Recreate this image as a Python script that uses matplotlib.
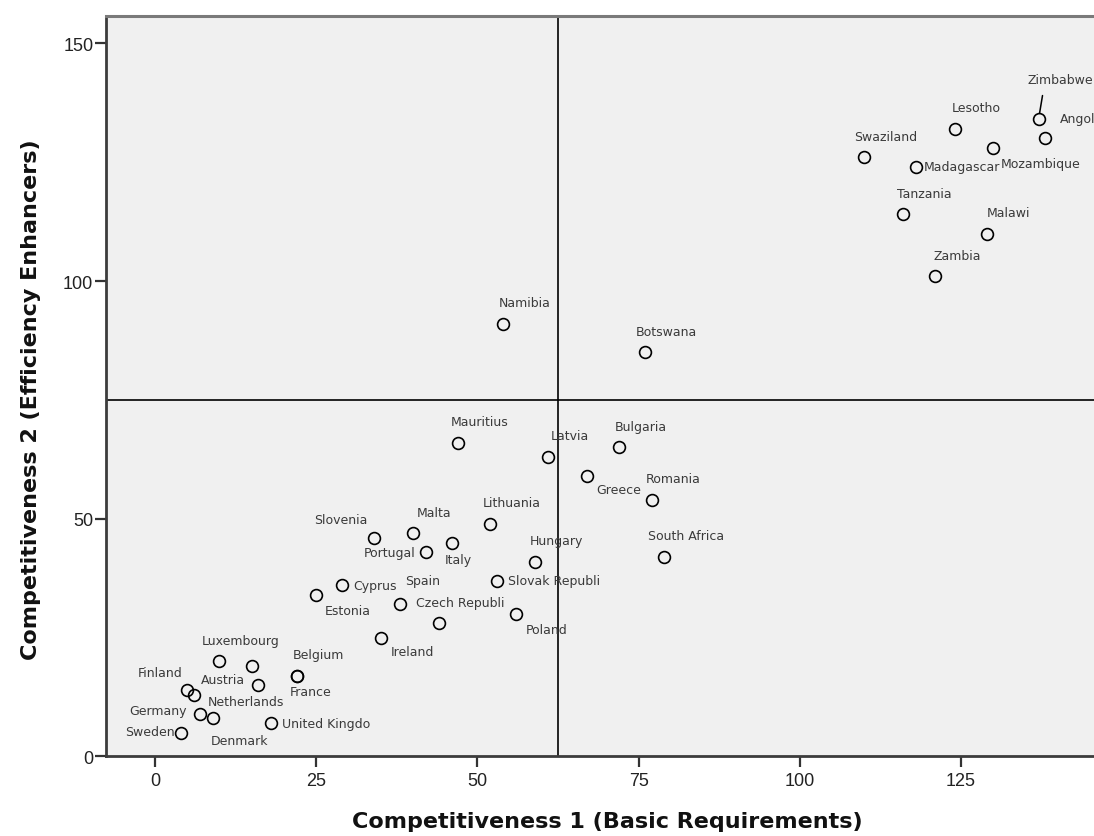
import matplotlib
matplotlib.use("Agg")
import matplotlib.pyplot as plt

# GCI ranks: basic requirements (x) vs efficiency enhancers (y)
countries = ["Zimbabwe", "Angola", "Lesotho", "Mozambique", "Swaziland", "Madagascar",
             "Tanzania", "Malawi", "Zambia", "Namibia", "Botswana", "Mauritius",
             "Latvia", "Bulgaria", "Greece", "Romania", "Lithuania", "South Africa",
             "Hungary", "Italy", "Slovenia", "Malta", "Portugal", "Slovak Republi",
             "Cyprus", "Spain", "Czech Republi", "Poland", "Ireland", "Estonia",
             "Luxembourg", "", "Austria", "Belgium", "France", "Finland",
             "Netherlands", "Germany", "Denmark", "Sweden", "United Kingdo"]
basic = [137, 138, 124, 130, 110, 118, 116, 129, 121, 54, 76, 47,
         61, 72, 67, 77, 52, 79, 59, 46, 34, 40, 42, 53,
         29, 38, 44, 56, 35, 25, 10, 15, 16, 22, 22, 5,
         6, 7, 9, 4, 18]
efficiency = [134, 130, 132, 128, 126, 124, 114, 110, 101, 91, 85, 66,
              63, 65, 59, 54, 49, 42, 41, 45, 46, 47, 43, 37,
              36, 32, 28, 30, 25, 34, 20, 19, 15, 17, 17, 14,
              13, 9, 8, 5, 7]

ref_x = 62.5
ref_y = 75

# label placement (pixel offset from the point, horizontal alignment)
ABOVE = (21.5, 21, "center")
label_pos = {
    "Zimbabwe": (22, 40, "center"),
    "Angola": (15, 20, "left"),
    "Mozambique": (7, -16, "left"),
    "Madagascar": (8, 0, "left"),
    "Greece": (32, -14, "center"),
    "Italy": (7, -17, "center"),
    "Slovenia": (-33, 18, "center"),
    "Portugal": (-10, 0, "right"),
    "Slovak Republi": (11, 0, "left"),
    "Cyprus": (11, 0, "left"),
    "Spain": (23, 24, "center"),
    "Poland": (31, -16, "center"),
    "Ireland": (32, -14, "center"),
    "Estonia": (32, -16, "center"),
    "France": (14, -16, "center"),
    "Austria": (-13, 6, "right"),
    "Finland": (-27, 17, "center"),
    "Netherlands": (14, -7, "left"),
    "Germany": (-13, 3, "right"),
    "Denmark": (27, -22, "center"),
    "Sweden": (-6, 1, "right"),
    "United Kingdo": (11, 0, "left"),
}

fig = plt.figure(figsize=(10.94, 8.37), dpi=100)
ax = fig.add_axes([0.0973, 0.0950, 0.9027, 0.8844])
ax.set_facecolor("#f0f0f0")

ax.plot(basic, efficiency, "o", ms=8.5, mfc="none", mec="black", mew=1.2, zorder=3)
ax.axvline(ref_x, color="black", lw=1.2, zorder=2)
ax.axhline(ref_y, color="black", lw=1.2, zorder=2)

for name, x, y in zip(countries, basic, efficiency):
    if not name:
        continue
    dx, dy, ha = label_pos.get(name, ABOVE)
    kw = {}
    if name == "Zimbabwe":
        kw["arrowprops"] = dict(arrowstyle="-", color="black", lw=1.1,
                                relpos=(0.25, 0), shrinkA=5, shrinkB=4.5)
    ax.annotate(name, (x, y), xytext=(dx, dy), textcoords="offset pixels",
                ha=ha, va="center", fontsize=9, color="#3a3a3a",
                family="DejaVu Sans", annotation_clip=False, zorder=4, **kw)

ax.set_xlim(-7.5, 145.6)
ax.set_ylim(0, 155.7)
ax.set_xticks([0, 25, 50, 75, 100, 125])
ax.set_yticks([0, 50, 100, 150])

for side in ["left", "bottom"]:
    ax.spines[side].set_color("#3c3c3c")
    ax.spines[side].set_linewidth(2)
ax.spines["top"].set_color("#7a7a7a")
ax.spines["top"].set_linewidth(2.2)
ax.spines["right"].set_visible(False)

ax.tick_params(axis="both", direction="out", length=8, width=1.6, color="#333333",
               labelsize=13, labelcolor="#222222")
ax.tick_params(axis="y", pad=1.5)
ax.tick_params(axis="x", pad=3)
for lab in ax.get_xticklabels() + ax.get_yticklabels():
    lab.set_family("Liberation Sans")

ax.set_xlabel("Competitiveness 1 (Basic Requirements)", fontsize=16,
              fontweight="bold", family="DejaVu Sans", color="#111111")
ax.set_ylabel("Competitiveness 2 (Efficiency Enhancers)", fontsize=16,
              fontweight="bold", family="DejaVu Sans", color="#111111")
ax.xaxis.set_label_coords(607 / 1094, 1 - 822 / 837, transform=fig.transFigure)
ax.yaxis.set_label_coords(31 / 1094, 1 - 400 / 837, transform=fig.transFigure)
ax.xaxis.label.set_va("center")
ax.yaxis.label.set_va("center")

fig.savefig("out.png", dpi=100)
